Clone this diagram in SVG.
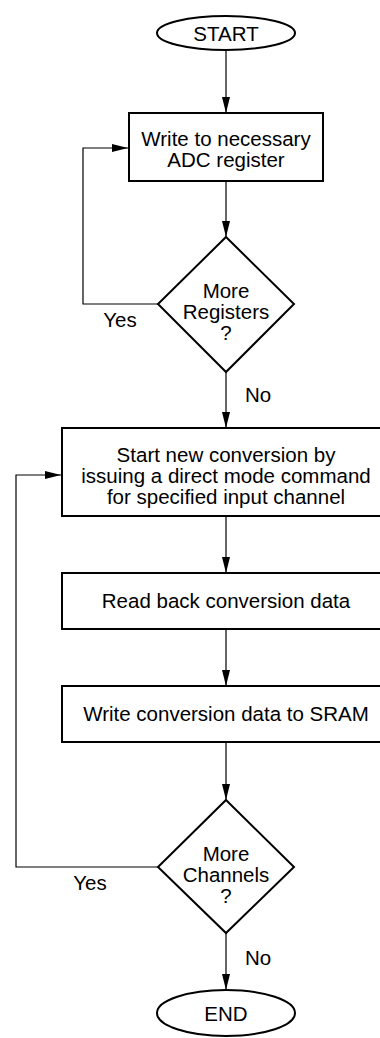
<svg xmlns="http://www.w3.org/2000/svg" width="380" height="1038" viewBox="0 0 380 1038">
<style>
.n{fill:#fff;stroke:#000;stroke-width:2}
.t{font-family:"Liberation Sans",Arial,sans-serif;font-size:20.5px;fill:#000;text-anchor:middle}
.c{fill:none;stroke:#000;stroke-width:1.2}
</style>
<defs>
<marker id="a" viewBox="0 0 16 8" refX="16" refY="4" markerWidth="16" markerHeight="8" markerUnits="userSpaceOnUse" orient="auto">
<path d="M0,0L16,4L0,8z" fill="#000"/>
</marker>
</defs>
<rect width="380" height="1038" fill="#fff"/>
<g id="connectors">
<path class="c" d="M226,51V113" marker-end="url(#a)"/>
<path class="c" d="M226,181V237" marker-end="url(#a)"/>
<path class="c" d="M158,304H83V148H128" marker-end="url(#a)"/>
<path class="c" d="M226,372V428" marker-end="url(#a)"/>
<path class="c" d="M226,516V573" marker-end="url(#a)"/>
<path class="c" d="M226,629V686" marker-end="url(#a)"/>
<path class="c" d="M226,742V800" marker-end="url(#a)"/>
<path class="c" d="M158,867H16V475H61" marker-end="url(#a)"/>
<path class="c" d="M226,933V990" marker-end="url(#a)"/>
<text class="t" x="120" y="327">Yes</text>
<text class="t" x="258" y="402">No</text>
<text class="t" x="90" y="890">Yes</text>
<text class="t" x="258" y="965">No</text>
</g>
<g id="start">
<ellipse class="n" cx="226" cy="33" rx="69" ry="17"/>
<text class="t" x="226" y="41">START</text>
</g>
<g id="write-reg">
<rect class="n" x="129" y="113" width="194" height="68"/>
<text class="t" x="226" y="145.5">Write to necessary</text>
<text class="t" x="226" y="166.5">ADC register</text>
</g>
<g id="more-registers">
<path class="n" d="M226,237L294,304L226,372L158,304z"/>
<text class="t" x="226" y="298">More</text>
<text class="t" x="226" y="319">Registers</text>
<text class="t" x="226" y="340">?</text>
</g>
<g id="start-conv">
<rect class="n" x="62" y="428" width="330" height="88"/>
<text class="t" x="226" y="461.5">Start new conversion by</text>
<text class="t" x="226" y="482.5">issuing a direct mode command</text>
<text class="t" x="226" y="503.5">for specified input channel</text>
</g>
<g id="read-back">
<rect class="n" x="62" y="573" width="330" height="56"/>
<text class="t" x="226" y="608">Read back conversion data</text>
</g>
<g id="write-sram">
<rect class="n" x="62" y="686" width="330" height="56"/>
<text class="t" x="226" y="721">Write conversion data to SRAM</text>
</g>
<g id="more-channels">
<path class="n" d="M226,800L294,867L226,933L158,867z"/>
<text class="t" x="226" y="861">More</text>
<text class="t" x="226" y="882">Channels</text>
<text class="t" x="226" y="903">?</text>
</g>
<g id="end">
<ellipse class="n" cx="226" cy="1013" rx="69" ry="23"/>
<text class="t" x="226" y="1021">END</text>
</g>
</svg>
